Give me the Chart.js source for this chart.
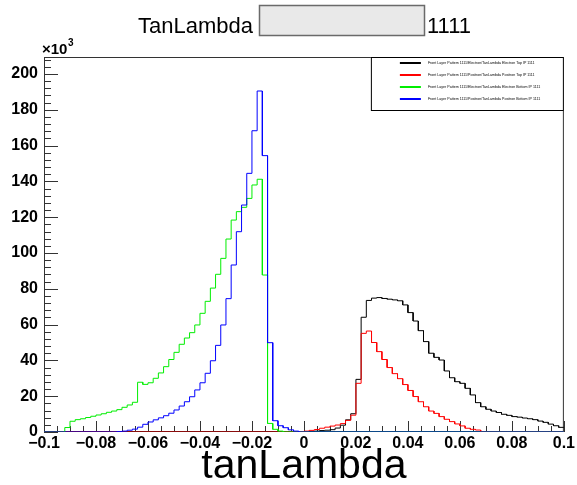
<!DOCTYPE html>
<html>
<head>
<meta charset="utf-8">
<script src="https://cdn.jsdelivr.net/npm/chart.js@4.4.0/dist/chart.umd.min.js"></script>
<style>
  html, body { margin: 0; padding: 0; background: #fff; }
</style>
</head>
<body>
<canvas id="hist" width="577" height="485"></canvas>
<script>
// 100 bins from -0.1 to 0.1, counts in thousands
const binLow = -0.1;
const binWidth = 0.002;

const electronTop = [
  0,0,0,0,0,0,0,0,0,0,
  0,0,0,0,0,0,0,0,0,0,
  0,0,0,0,0,0,0,0,0,0,
  0,0,0,0,0,0,0,0,0,0,
  0,0,0,0,0,0,0,0,0,0,
  0,0.2,0.5,0.8,1.0,1.3,2.2,3.8,6.8,10.2,
  29.4,64.1,73.5,74.8,75.1,74.6,74.2,73.8,73.3,71.0,
  66.7,62.0,56.6,50.5,44.0,41.7,40.2,34.1,30.3,28.1,
  27.2,24.4,20.7,16.4,14.1,12.7,11.7,10.9,9.9,9.3,
  8.6,8.3,7.8,7.4,6.9,6.1,5.4,4.4,3.5,2.6
];
const positronTop = [
  0,0,0,0,0,0,0,0,0,0,
  0,0,0,0,0,0,0,0,0,0,
  0,0,0,0,0,0,0,0,0,0,
  0,0,0,0,0,0,0,0,0,0,
  0,0,0,0,0,0,0,0,0,0.2,
  0.5,0.9,1.4,2.1,2.7,3.3,3.9,4.7,6.5,9.4,
  27.2,55.1,56.4,50.0,44.9,40.5,36.0,32.6,29.8,26.5,
  23.2,19.8,16.9,14.1,11.7,10.4,8.6,7.1,5.8,4.5,
  3.4,2.1,1.5,1.1,0,0,0,0,0,0,
  0,0,0,0,0,0,0,0,0,0
];
const electronBottom = [
  0,0,0,0,2.5,6.0,6.9,7.4,8.1,8.8,
  9.5,10.2,11.0,11.7,12.5,13.8,15.1,16.6,27.8,26.6,
  27.5,30.0,33.0,36.5,40.5,44.5,49.0,52.5,55.5,59.8,
  66.3,73.0,80.4,88.1,97.0,107.8,118.4,123.1,125.5,130.5,
  138.0,141.2,87.7,4.8,1.5,0.5,0,0,0,0,
  0,0,0,0,0,0,0,0,0,0,
  0,0,0,0,0,0,0,0,0,0,
  0,0,0,0,0,0,0,0,0,0,
  0,0,0,0,0,0,0,0,0,0,
  0,0,0,0,0,0,0,0,0,0
];
const positronBottom = [
  0,0,0,0,0,0,0,0,0,0,
  0,0,0,0,0.2,0.5,1.0,1.6,2.7,4.3,
  5.6,6.8,7.9,9.1,10.5,12.3,14.5,16.9,19.7,23.5,
  27.5,32.8,39.8,48.4,59.8,74.5,93.3,111.9,126.8,144.5,
  168.3,190.5,154.4,49.9,6.3,3.5,2.4,1.2,0.5,0,
  0,0,0,0,0,0,0,0,0,0,
  0,0,0,0,0,0,0,0,0,0,
  0,0,0,0,0,0,0,0,0,0,
  0,0,0,0,0,0,0,0,0,0,
  0,0,0,0,0,0,0,0,0,0
];

const seriesNames = [
  'Front Layer Pattern 1111/Electron/TanLambda Electron Top IP 1111',
  'Front Layer Pattern 1111/Positron/TanLambda Positron Top IP 1111',
  'Front Layer Pattern 1111/Electron/TanLambda Electron Bottom IP 1111',
  'Front Layer Pattern 1111/Positron/TanLambda Positron Bottom IP 1111'
];
const seriesColors = ['#000000', '#ff0000', '#00ee00', '#0000ff'];

const xTickValues = [-0.1, -0.08, -0.06, -0.04, -0.02, 0, 0.02, 0.04, 0.06, 0.08, 0.1];
const yTickValues = [0, 20, 40, 60, 80, 100, 120, 140, 160, 180, 200];

// histogram outline: flat top over each bin
function steps(vals) {
  const pts = [];
  vals.forEach((v, i) => {
    const lo = binLow + i * binWidth;
    pts.push({x: lo, y: v}, {x: lo + binWidth, y: v});
  });
  return pts;
}

function fmtX(v) {
  if (Math.abs(v) < 1e-9) return '0';
  const s = String(+Math.abs(v).toFixed(2));
  return v < 0 ? '\u2212' + s : s;
}

const FONT = "'Liberation Sans', Arial, sans-serif";
Chart.defaults.font.family = FONT;

const rootStyle = {
  id: 'rootStyle',
  beforeDatasetsDraw(chart) {
    const ctx = chart.ctx, a = chart.chartArea;
    const xs = chart.scales.x, ys = chart.scales.y;
    ctx.save();
    ctx.strokeStyle = '#333';
    ctx.lineWidth = 1;
    ctx.strokeRect(a.left + 0.5, a.top + 0.5, a.right - a.left - 1, a.bottom - a.top - 1);
    ctx.beginPath();
    for (let v = 0; v <= ys.max; v += 4) {
      const y = Math.round(ys.getPixelForValue(v)) + 0.5;
      const len = v % 20 === 0 ? 14 : 7;
      ctx.moveTo(a.left, y);
      ctx.lineTo(a.left + len, y);
    }
    for (let k = -20; k <= 20; k++) {
      const x = Math.round(xs.getPixelForValue(k * 0.005)) + 0.5;
      const len = k % 4 === 0 ? 11 : 6;
      ctx.moveTo(x, a.bottom);
      ctx.lineTo(x, a.bottom - len);
    }
    ctx.stroke();
    ctx.restore();
  },
  afterDraw(chart) {
    const ctx = chart.ctx, a = chart.chartArea;
    ctx.save();
    // title bar
    ctx.fillStyle = '#000';
    ctx.font = '22px ' + FONT;
    ctx.textBaseline = 'alphabetic';
    ctx.fillText('TanLambda', 138, 33);
    ctx.fillStyle = '#e9e9e9';
    ctx.fillRect(259, 5, 165, 30);
    ctx.strokeStyle = '#6a6a6a';
    ctx.lineWidth = 1.5;
    ctx.strokeRect(259.5, 5.5, 165, 30);
    ctx.fillStyle = '#000';
    ctx.fillText('1111', 427, 33);

    // exponent label
    ctx.font = 'bold 15px ' + FONT;
    ctx.fillText('\u00d710', 42, 54);
    const w = ctx.measureText('\u00d710').width;
    ctx.font = 'bold 10px ' + FONT;
    ctx.fillText('3', 42 + w + 0.5, 46);

    // axis title
    ctx.font = '41px ' + FONT;
    ctx.textAlign = 'center';
    ctx.fillText('tanLambda', (a.left + a.right) / 2, 478);

    // legend
    const lx = a.right - 193, ly = a.top;
    ctx.fillStyle = '#fff';
    ctx.fillRect(lx, ly, 193, 54);
    ctx.strokeStyle = '#000';
    ctx.lineWidth = 1;
    ctx.strokeRect(lx + 0.5, ly + 0.5, 192, 53);
    ctx.textAlign = 'left';
    ctx.textBaseline = 'middle';
    ctx.font = '3.6px ' + FONT;
    seriesNames.forEach((name, i) => {
      const y = Math.round(ly + 5 + 12 * i);
      ctx.fillStyle = seriesColors[i];
      ctx.fillRect(lx + 29, y, 21, 2);
      ctx.fillStyle = '#000';
      ctx.fillText(name, lx + 57, y + 1);
    });
    ctx.restore();
  }
};

const series = [electronTop, positronTop, electronBottom, positronBottom];
// blue drawn on top, black at the bottom
const datasets = [3, 2, 1, 0].map(i => ({
  label: seriesNames[i],
  data: steps(series[i]),
  borderColor: seriesColors[i],
  borderWidth: 1,
  pointRadius: 0,
  tension: 0,
  fill: false
}));

new Chart(document.getElementById('hist'), {
  type: 'line',
  data: { datasets: datasets },
  plugins: [rootStyle],
  options: {
    responsive: false,
    animation: false,
    layout: { padding: { top: 57, right: 11, left: 0, bottom: 0 } },
    plugins: { legend: { display: false }, tooltip: { enabled: false } },
    scales: {
      x: {
        type: 'linear',
        min: -0.1,
        max: 0.1,
        grid: { display: false, drawTicks: false },
        border: { display: false },
        afterBuildTicks: s => { s.ticks = xTickValues.map(v => ({ value: v })); },
        afterFit: s => { s.height = 53; },
        ticks: {
          maxRotation: 0,
          autoSkip: false,
          padding: 2,
          color: '#000',
          font: { size: 16, weight: 'bold' },
          callback: v => fmtX(v)
        }
      },
      y: {
        min: 0,
        max: 209.5,
        grid: { display: false, drawTicks: false },
        border: { display: false },
        afterBuildTicks: s => { s.ticks = yTickValues.map(v => ({ value: v })); },
        afterFit: s => { s.width = 44; },
        ticks: {
          padding: 6,
          color: '#000',
          font: { size: 16, weight: 'bold' },
          callback: v => String(v)
        }
      }
    }
  }
});
</script>
</body>
</html>
